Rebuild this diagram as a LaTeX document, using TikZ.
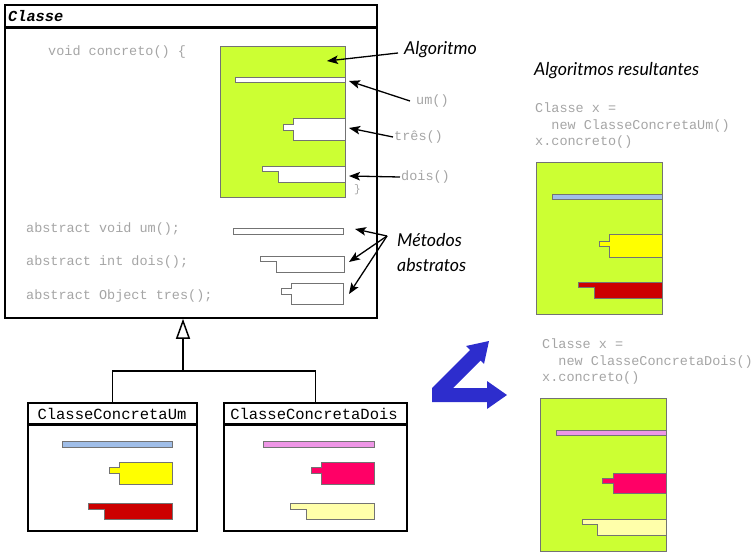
\documentclass[tikz,border=0pt]{standalone}
\usepackage{fontspec}
\newfontfamily\codefont{Liberation Mono}
\newfontfamily\notefont{Lato}
\usepackage{tikz}
\usetikzlibrary{arrows.meta,positioning}
\definecolor{cGreen}{RGB}{204,255,51}
\definecolor{cCode}{RGB}{165,165,165}
\definecolor{cEdge}{RGB}{115,115,115}
\definecolor{cSky}{RGB}{160,190,232}
\definecolor{cLilac}{RGB}{238,150,230}
\definecolor{cYellow}{RGB}{255,255,0}
\definecolor{cRed}{RGB}{204,0,0}
\definecolor{cCrimson}{RGB}{255,0,102}
\definecolor{cCream}{RGB}{255,255,170}
\definecolor{cRoyal}{RGB}{45,45,205}

\begin{document}
\begin{tikzpicture}[x=1pt, y=-1pt,
  cls/.style={draw, line width=1.8pt, anchor=north west, inner sep=0pt},
  sep/.style={line width=3pt},
  algo/.style={draw=cEdge, fill=cGreen, anchor=north west, inner sep=0pt},
  part/.style={draw=cEdge, line width=0.9pt},
  code/.style={font=\codefont\fontsize{13.5}{16.5}\selectfont, text=cCode, inner sep=0pt},
  title/.style={font=\codefont\fontsize{15.5}{16}\selectfont, inner sep=0pt},
  note/.style={font=\notefont\itshape\fontsize{17.8}{25}\selectfont, inner sep=0pt},
  pointer/.style={line width=1.3pt, -{Stealth[length=11pt, width=8.5pt, inset=2.5pt]}},
  inherit/.style={line width=1.5pt},
]
  \useasboundingbox (0,0) rectangle (756,554);

  % abstract class
  \node[cls, minimum width=372pt, minimum height=313pt] (classe) at (4,4) {};
  \node[title, anchor=west, font=\codefont\bfseries\itshape\fontsize{15.3}{16}\selectfont]
    (classeName) at (8,16) {Classe};
  \draw[sep] (4,27) -- (376,27);

  \node[code, anchor=west] (concreto) at (48,52) {void concreto() \{};
  \node[algo, minimum width=125pt, minimum height=151pt] (algo) at (220,46) {};
  \draw[part, fill=white] (235,77) rectangle (345,82);
  \draw[part, fill=white] (293,118) -- (345,118) -- (345,140) -- (293,140) -- (293,130)
    -- (283,130) -- (283,124) -- (293,124) -- cycle;
  \draw[part, fill=white] (262,166) -- (345,166) -- (345,182) -- (278,182) -- (278,171)
    -- (262,171) -- cycle;
  \node[code, anchor=west, font=\codefont\fontsize{11}{12}\selectfont] (brace) at (354,190) {\}};

  \node[code, anchor=west] (absUm) at (26,229) {abstract void um();};
  \node[code, anchor=west] (absDois) at (26,262) {abstract int dois();};
  \node[code, anchor=west] (absTres) at (26,296) {abstract Object tres();};
  \draw[part, fill=white] (233,228) rectangle (343,234);
  \draw[part, fill=white] (260,256) -- (344,256) -- (344,272) -- (276,272) -- (276,261)
    -- (260,261) -- cycle;
  \draw[part, fill=white] (291,283) -- (343,283) -- (343,304) -- (291,304) -- (291,294)
    -- (281,294) -- (281,288) -- (291,288) -- cycle;

  % labels and pointers
  \coordinate (algoEnd) at (327,61);
  \coordinate (umEnd) at (349,81);
  \coordinate (tresEnd) at (349,128);
  \coordinate (doisEnd) at (349,176);
  \coordinate (absUmEnd) at (355,229);
  \coordinate (absDoisEnd) at (349,262);
  \coordinate (absTresEnd) at (349,294);

  \node[note, anchor=west] (algoLabel) at (404,50) {Algoritmo};
  \node[code, anchor=west] (umLabel) at (416,101) {um()};
  \node[code, anchor=west] (tresLabel) at (394,137) {três()};
  \node[code, anchor=west] (doisLabel) at (401,177) {dois()};
  \node[note, anchor=west, align=left] (absLabel) at (397,253) {Métodos\\abstratos};

  \draw[pointer] ([xshift=-6pt,yshift=-3pt]algoLabel.west) -- (algoEnd);
  \draw[pointer] ([xshift=-6pt]umLabel.west) -- (umEnd);
  \draw[pointer] ([xshift=-1pt]tresLabel.west) -- (tresEnd);
  \draw[pointer] ([xshift=-1pt]doisLabel.west) -- (doisEnd);
  \coordinate (absFrom) at ([xshift=-10pt,yshift=17pt]absLabel.west);
  \draw[pointer] (absFrom) -- (absUmEnd);
  \draw[pointer] (absFrom) -- (absDoisEnd);
  \draw[pointer] (absFrom) -- (absTresEnd);

  % concrete classes
  \node[cls, minimum width=169pt, minimum height=128pt] (um) at (27,402) {};
  \node[title] (umName) at (112,414) {ClasseConcretaUm};
  \draw[sep] (27,424) -- (196,424);
  \draw[part, fill=cSky] (62,441) rectangle (172,447);
  \draw[part, fill=cYellow] (119,462) -- (172,462) -- (172,484) -- (119,484) -- (119,473)
    -- (109,473) -- (109,467) -- (119,467) -- cycle;
  \draw[part, fill=cRed] (88,503) -- (172,503) -- (172,519) -- (104,519) -- (104,509)
    -- (88,509) -- cycle;

  \node[cls, minimum width=183pt, minimum height=128pt] (dois) at (223,402) {};
  \node[title] (doisName) at (314,414) {ClasseConcretaDois};
  \draw[sep] (223,424) -- (406,424);
  \draw[part, fill=cLilac] (263,441) rectangle (374,447);
  \draw[part, fill=cCrimson] (321,462) -- (374,462) -- (374,484) -- (321,484) -- (321,473)
    -- (311,473) -- (311,467) -- (321,467) -- cycle;
  \draw[part, fill=cCream] (290,503) -- (374,503) -- (374,519) -- (306,519) -- (306,509)
    -- (290,509) -- cycle;

  \coordinate (fork) at (183,371);
  \draw[inherit] (um.north) |- (fork);
  \draw[inherit] (dois.north) |- (fork);
  \draw[inherit, -{Triangle[open, length=20pt, width=14pt, fill=white]}] (fork) -- (fork |- classe.south);

  % blue arrow
  \fill[cRoyal] (432,402) -- (487,402) -- (487,409) -- (507,395) -- (487,381) -- (487,388)
    -- (453,388) -- (480.5,360.5) -- (484,364) -- (489,341) -- (466,346) -- (470,350)
    -- (432,388) -- cycle;

  % resulting algorithms
  \node[note, anchor=west] (resTitle) at (534,71) {Algoritmos resultantes};

  \node[code, align=left, anchor=north west] (runUm) at (535,103)
    {Classe x =\\\phantom{xx}new ClasseConcretaUm()\\x.concreto()};
  \node[algo, minimum width=126pt, minimum height=152pt] (resUm) at (536,162) {};
  \draw[part, fill=cSky] (552,194) rectangle (662,199);
  \draw[part, fill=cYellow] (609,234) -- (662,234) -- (662,257) -- (609,257) -- (609,246)
    -- (599,246) -- (599,241) -- (609,241) -- cycle;
  \draw[part, fill=cRed] (578,282) -- (662,282) -- (662,298) -- (594,298) -- (594,287)
    -- (578,287) -- cycle;

  \node[code, align=left, anchor=north west] (runDois) at (542,339)
    {Classe x =\\\phantom{xx}new ClasseConcretaDois()\\x.concreto()};
  \node[algo, minimum width=126pt, minimum height=153pt] (resDois) at (540,398) {};
  \draw[part, fill=cLilac] (556,430) rectangle (666,435);
  \draw[part, fill=cCrimson] (613,473) -- (666,473) -- (666,493) -- (613,493) -- (613,483)
    -- (602,483) -- (602,478) -- (613,478) -- cycle;
  \draw[part, fill=cCream] (582,519) -- (666,519) -- (666,535) -- (597,535) -- (597,524)
    -- (582,524) -- cycle;
\end{tikzpicture}
\end{document}
